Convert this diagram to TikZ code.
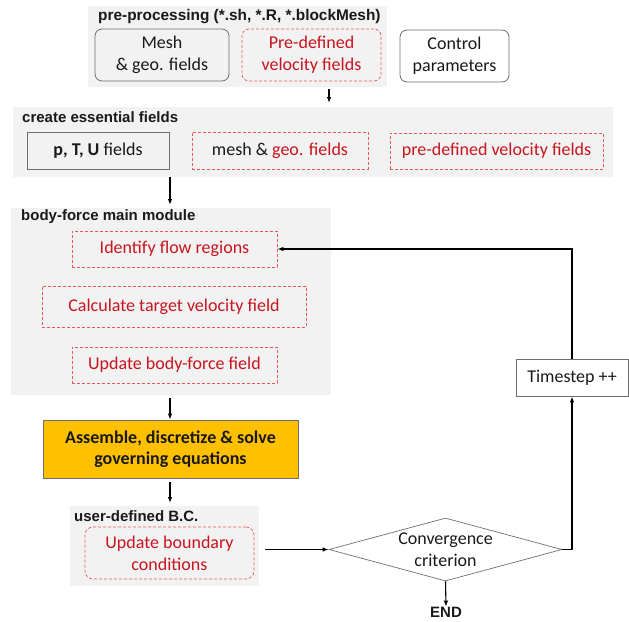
\documentclass[tikz,border=0pt]{standalone}
\usepackage{fontspec}
\setmainfont{Carlito}
\newfontfamily\hfont{Liberation Sans}
\usetikzlibrary{arrows.meta,shapes.geometric,calc}
\definecolor{panelgray}{RGB}{242,242,242}
\definecolor{boxgray}{RGB}{110,110,110}
\definecolor{dashred}{RGB}{230,90,90}
\definecolor{txtred}{RGB}{200,20,30}
\definecolor{txtdark}{RGB}{25,25,25}
\definecolor{orangefill}{RGB}{255,192,0}
\begin{document}
\begin{tikzpicture}[x=1pt,y=-1pt,
  panel/.style={fill=panelgray,draw=none,inner sep=0pt},
  ptitle/.style={anchor=west,inner sep=0pt,font=\hfont\bfseries\fontsize{15}{17}\selectfont,text=txtdark},
  body/.style={font=\fontsize{18}{22}\selectfont,text=txtdark,align=center,inner sep=0pt},
  gbox/.style={body,draw=boxgray,line width=0.8pt},
  rdash/.style={body,draw=dashred,dash pattern=on 3pt off 2pt,line width=0.7pt,text=txtred},
  arr/.style={-{Latex[length=6pt,width=4.5pt]},line width=1.1pt,black},
  loopline/.style={line width=1.5pt,black}]
\useasboundingbox (0,0) rectangle (629,621);
% panel 1
\node[panel,minimum width=299pt,minimum height=81pt] (p1) at (237.5,46.5) {};
\node[ptitle,font=\hfont\bfseries\fontsize{15.4}{17}\selectfont] (t1) at (98,17) {pre-processing (*.sh, *.R, *.blockMesh)};
\node[gbox,rounded corners=7pt,fill=panelgray,minimum width=134pt,minimum height=52pt] (mesh) at (162,55) {Mesh\\\& geo. fields};
\node[rdash,rounded corners=7pt,minimum width=139pt,minimum height=52pt] (predef) at (311.5,55) {Pre-defined\\velocity fields};
\node[gbox,rounded corners=7pt,fill=white,minimum width=109pt,minimum height=52pt] (control) at (454.5,56) {Control\\parameters};
% panel 2
\node[panel,minimum width=600pt,minimum height=70pt] (p2) at (313,142) {};
\node[ptitle] (t2) at (22,117) {create essential fields};
\node[gbox,minimum width=142pt,minimum height=37pt] (ptu) at (98,150.5) {\textbf{p, T, U} fields};
\node[rdash,minimum width=176pt,minimum height=37pt,text=txtdark] (meshgeo) at (280,150.5) {mesh \& \textcolor{txtred}{geo. fields}};
\node[rdash,minimum width=213pt,minimum height=36pt] (pdv) at (496.5,151) {pre-defined velocity fields};
% panel 3
\node[panel,minimum width=320pt,minimum height=187pt] (p3) at (171,301.5) {};
\node[ptitle] (t3) at (21,217) {body-force main module};
\node[rdash,minimum width=205pt,minimum height=36pt] (ident) at (174.5,249) {Identify flow regions};
\node[rdash,minimum width=264pt,minimum height=41pt] (calc) at (174,306.5) {Calculate target velocity field};
\node[rdash,minimum width=205pt,minimum height=36pt] (upd) at (174.5,365) {Update body-force field};
% solver
\node[gbox,fill=orangefill,minimum width=255pt,minimum height=58pt,font=\bfseries\fontsize{18}{21.5}\selectfont] (asm) at (170.5,449) {Assemble, discretize \& solve\\governing equations};
% panel 5
\node[panel,minimum width=189pt,minimum height=80pt] (p5) at (164.5,546) {};
\node[ptitle] (t5) at (74,516) {user-defined B.C.};
\node[rdash,rounded corners=8pt,minimum width=169pt,minimum height=52pt] (ubc) at (169.5,553) {Update boundary\\conditions};
% decision
\node[diamond,draw=boxgray,line width=0.7pt,minimum width=233pt,minimum height=63pt,aspect=3.7,inner sep=0pt] (conv) at (445.5,549.5) {};
\node[body] (convt) at (conv.center) {Convergence\\criterion};
\node[inner sep=0pt,font=\hfont\bfseries\fontsize{15}{17}\selectfont,text=txtdark] (endn) at (446,612) {END};
\node[gbox,line width=0.8pt,minimum width=112pt,minimum height=37pt] (ts) at (572,377.5) {Timestep ++};
% connectors
\coordinate (a1s) at (329,89);
\coordinate (a1e) at (329,103);
\draw[arr] (a1s) -- (a1e);
\coordinate (a2s) at (170,177);
\coordinate (a2e) at (170,205);
\draw[arr] (a2s) -- (a2e);
\coordinate (a3s) at (170,398);
\draw[arr] (a3s) -- (asm.north -| a3s);
\coordinate (a4s) at (170,482);
\coordinate (a4e) at (170,503);
\draw[arr] (a4s) -- (a4e);
\coordinate (a5s) at (265,549.5);
\draw[arr] (a5s) -- (conv.west);
\draw[arr] (conv.south) -- (endn.north);
\draw[loopline,-{Latex[length=6pt,width=4.5pt]}] (conv.east) -| (ts.south);
\draw[loopline,-{Latex[length=6pt,width=4.5pt]}] (ts.north) |- (ident.east);
\end{tikzpicture}
\end{document}
